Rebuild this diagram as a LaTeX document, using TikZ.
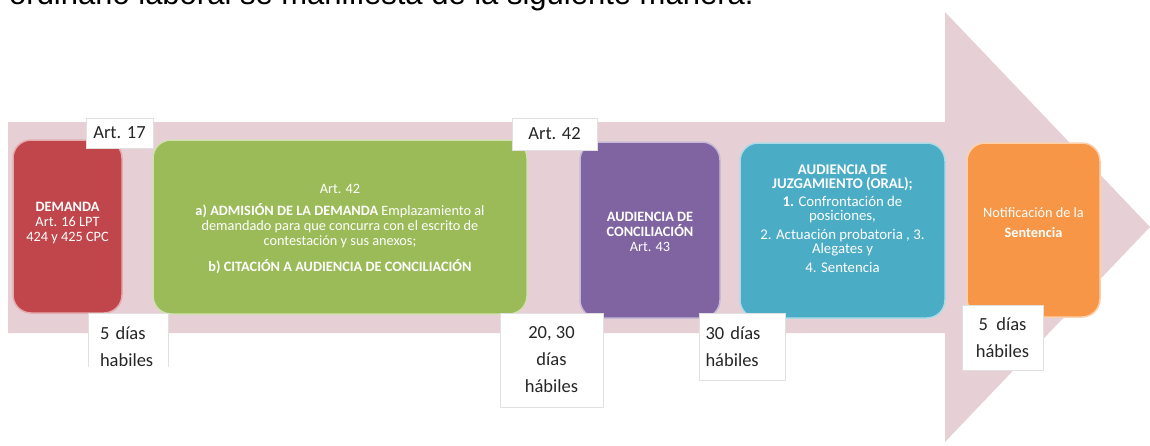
\documentclass[tikz,border=0pt]{standalone}
\usepackage{fontspec}
\setmainfont{Carlito}
\newfontfamily\arialf{Liberation Sans}
\definecolor{flecha}{RGB}{231,208,213}
\definecolor{rojo}{RGB}{192,70,75}
\definecolor{verde}{RGB}{155,187,89}
\definecolor{morado}{RGB}{128,100,162}
\definecolor{azul}{RGB}{75,172,198}
\definecolor{naranja}{RGB}{247,150,70}

\begin{document}
\begin{tikzpicture}[x=1pt,y=-1pt,
  paso/.style={rounded corners=18pt,fill=#1,draw=#1!45!white,line width=1.5pt,inner sep=0pt},
  texto/.style={text=white,align=center,font=\fontsize{14.3}{15}\selectfont,inner sep=0pt},
  etiqueta/.style={fill=white,draw=black!12,line width=0.8pt,text=black!85,font=\fontsize{18.5}{27}\selectfont,inner sep=0pt}]
\useasboundingbox (0,0) rectangle (1150,445);
\clip (0,0) rectangle (1150,445);
% texto cortado arriba
\node[anchor=base west,inner sep=0pt,font=\arialf\fontsize{31}{31}\selectfont] (intro) at (9,4.5) {ordinario laboral se manifiesta de la siguiente manera.};
% flecha de fondo
\fill[flecha] (8,122) -- (945,122) -- (945,12) -- (1150,227) -- (945,442) -- (945,333) -- (8,333) -- cycle;
% etapas
\node[paso=rojo,minimum width=109,minimum height=173] (demanda) at (67.5,226.5) {};
\node[paso=verde,minimum width=374,minimum height=174] (admision) at (340,227) {};
\node[paso=morado,minimum width=140,minimum height=176] (conciliacion) at (650,230) {};
\node[paso=azul,minimum width=205,minimum height=175] (juzgamiento) at (842.5,230.5) {};
\node[paso=naranja,minimum width=133,minimum height=174] (notificacion) at (1033.5,230) {};
\node[texto] (demandatxt) at ([yshift=3pt]demanda.center) {\textbf{DEMANDA}\\Art. 16 LPT\\424 y 425 CPC};
\node[texto] (admisiontxt) at ([yshift=-2pt]admision.center) {Art. 42\\[7pt]
  \textbf{a) ADMISIÓN DE LA DEMANDA} Emplazamiento al\\demandado para que concurra con el escrito de\\contestación y sus anexos;\\[11pt]
  \textbf{b) CITACIÓN A AUDIENCIA DE CONCILIACIÓN}};
\node[texto] (conciliaciontxt) at ([yshift=-2pt]conciliacion.center) {\textbf{AUDIENCIA DE}\\\textbf{CONCILIACIÓN}\\Art. 43};
\node[texto,font=\fontsize{14.8}{14.5}\selectfont] (juzgamientotxt) at ([yshift=12pt]juzgamiento.center) {\textbf{AUDIENCIA DE}\\\textbf{JUZGAMIENTO (ORAL);}\\[3pt]
  \textbf{1.} Confrontación de\\posiciones,\\[4pt]
  2. Actuación probatoria , 3.\\Alegates y\\[4pt]
  4. Sentencia};
\node[texto] (notificaciontxt) at ([yshift=7pt]notificacion.center) {Notificación de la\\[5pt]\textbf{Sentencia}};
% articulos y plazos
\node[etiqueta,minimum width=67,minimum height=30] (art17) at (119.5,133) {Art. 17};
\node[etiqueta,minimum width=85,minimum height=32] (art42) at (554.5,134) {Art. 42};
\begin{scope}
\clip (80,300) rectangle (180,366);
\node[etiqueta,align=left,text width=56,inner xsep=12pt,minimum height=68] (plazo1) at (128,347) {5 días\\habiles};
\end{scope}
\node[etiqueta,align=center,minimum width=103,minimum height=94] (plazo2) at (551.5,360) {20, 30\\días\\hábiles};
\node[etiqueta,align=left,text width=74,inner xsep=6pt,minimum height=67] (plazo3) at (742.5,346.5) {30 días\\hábiles};
\node[etiqueta,align=center,minimum width=81,minimum height=65] (plazo4) at (1002.5,337.5) {5\ \ días\\hábiles};
\end{tikzpicture}
\end{document}
